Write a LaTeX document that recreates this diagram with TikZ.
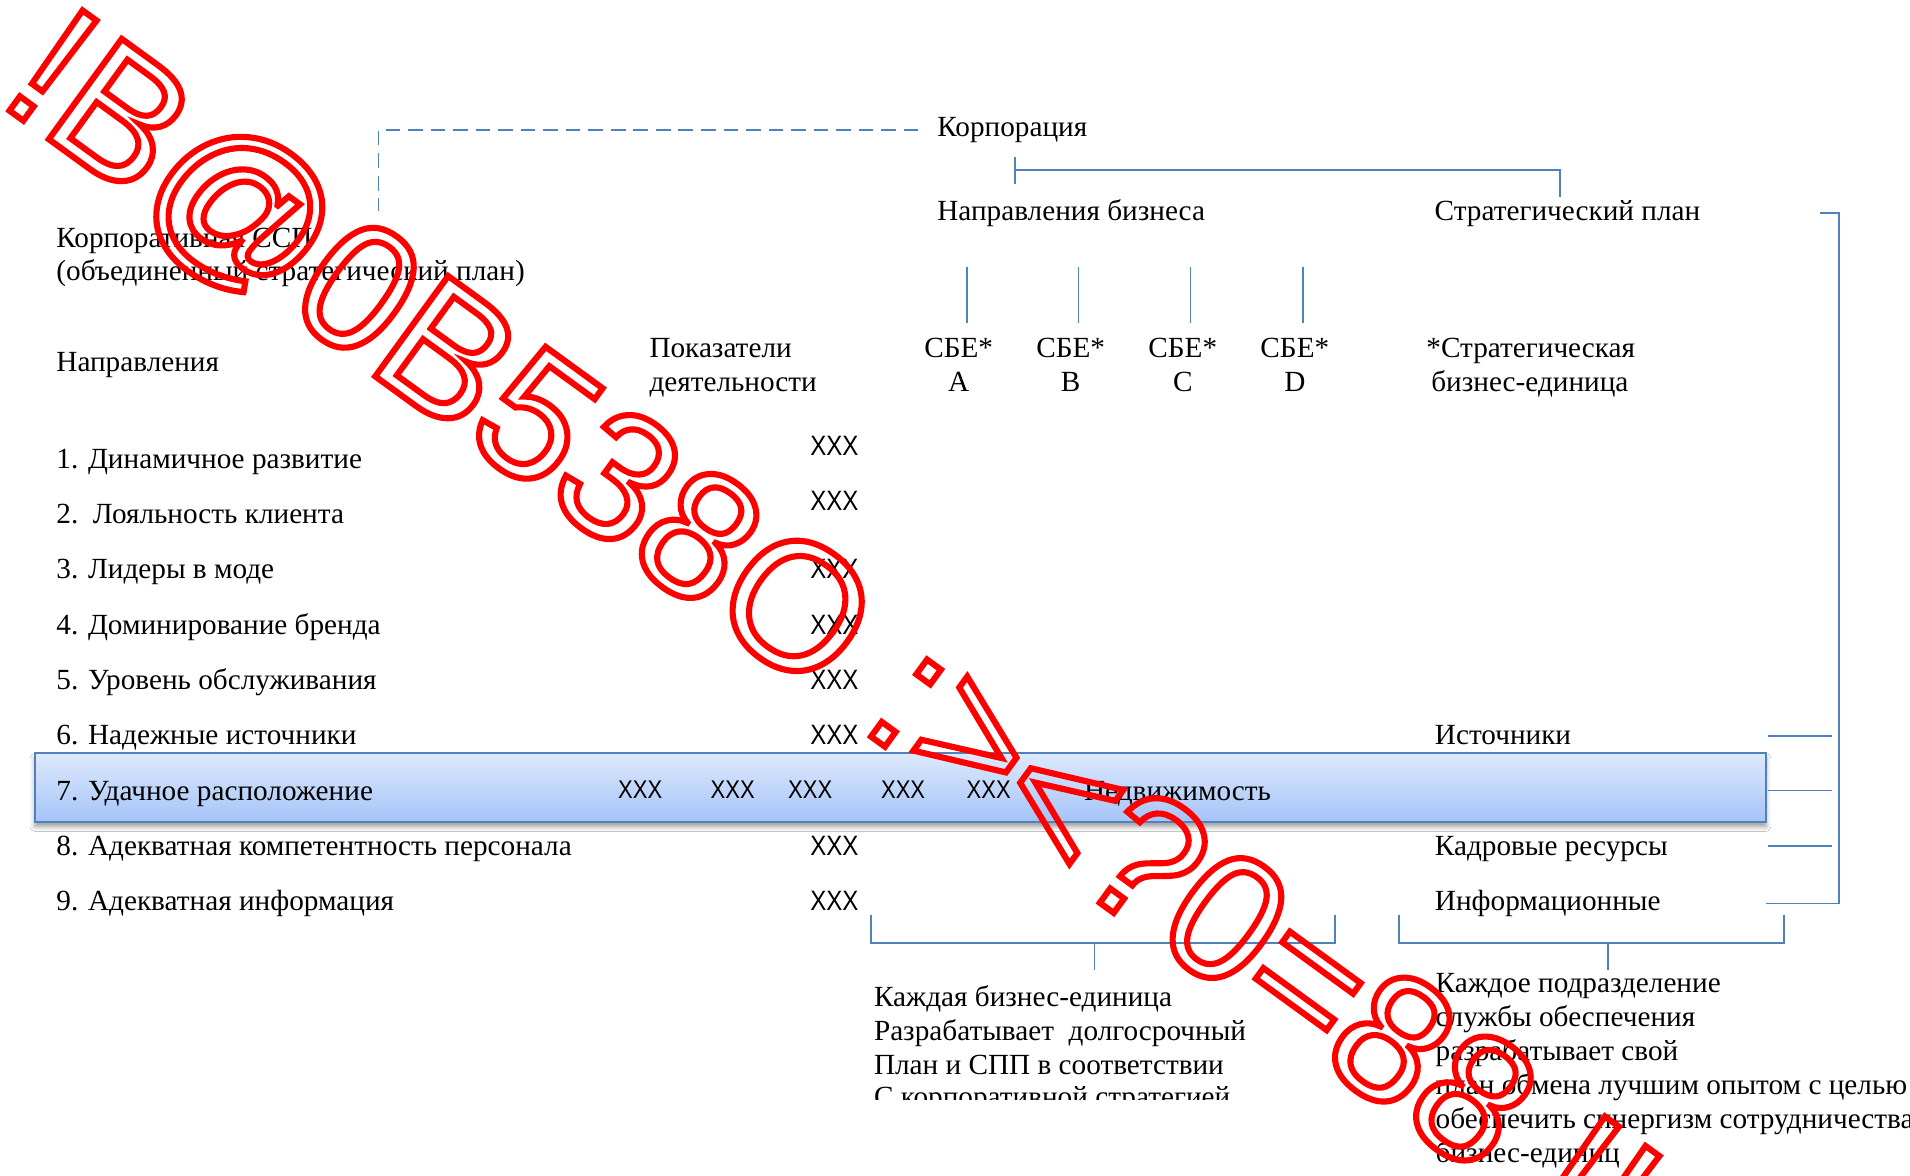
\documentclass[tikz,border=0pt]{standalone}
\usepackage{fontspec}
\usepackage{graphicx}
\setmainfont{Liberation Serif}
\newfontfamily\wmfont{Liberation Sans}
\newfontfamily\xfont{Liberation Sans}
\newcommand{\xxx}{\scalebox{0.86}[1]{XXX}}
\usetikzlibrary{shadows.blur}
\definecolor{lnblue}{HTML}{4F81BD}
\definecolor{boxtop}{HTML}{DDE9FC}
\definecolor{boxbot}{HTML}{A6C4F8}
\begin{document}
\begin{tikzpicture}[x=1pt,y=-1pt,
  every node/.style={inner sep=0pt, outer sep=0pt},
  txt/.style={anchor=base west, yshift=-1.5pt, font=\fontsize{24}{27.6}\selectfont},
  ctr/.style={anchor=base, yshift=-1.5pt, font=\fontsize{24}{27.6}\selectfont},
  xs/.style={anchor=base, font=\xfont\fontsize{23}{26}\selectfont},
  xr/.style={anchor=base, font=\xfont\fontsize{21}{24}\selectfont},
  ln/.style={draw=lnblue, line width=1.4pt},
  dashln/.style={draw=lnblue, line width=1.4pt, dash pattern=on 12pt off 6.5pt},
  hbox/.style={draw=lnblue, line width=1.5pt, top color=boxtop, bottom color=boxbot,
    minimum width=1421.1pt, minimum height=56.1pt,
    blur shadow={shadow xshift=0pt, shadow yshift=-4pt, shadow blur radius=4pt, shadow opacity=40}},
  wm/.style={anchor=base west, text=red, font=\wmfont\fontsize{148}{150}\selectfont}]
\useasboundingbox (0,0) rectangle (1568,965);
\fill[white] (0,0) rectangle (1568,965);
\clip (0,0) rectangle (1568,965);

% header
\node[txt] (korp) at (769.5,110.8) {Корпорация};
\node[txt] (naprb) at (769.5,179.8) {Направления бизнеса};
\node[txt] (strat) at (1177.8,179.8) {Стратегический план};
\node[txt] (cssp1) at (46.3,201.8) {Корпоративная ССП};
\node[txt] (cssp2) at (46.3,229.0) {(объединенный стратегический план)};
\node[txt] (napr) at (46.3,303.5) {Направления};
\node[txt] (pok1) at (533.2,292.3) {Показатели};
\node[txt] (pok2) at (533.2,320.2) {деятельности};
\foreach \n/\x/\l in {A/787/A, B/879/B, C/971/C, D/1063/D}{
  \node[ctr] (sbe\n) at (\x,292.3) {СБЕ*};
  \node[ctr] (sbel\n) at (\x,320.2) {\l};
}
\node[txt] (sbu1) at (1171,292.3) {*Стратегическая};
\node[txt] (sbu2) at (1175,320.2) {бизнес-единица};

% highlighted row
\node[hbox] (r7box) at (739.25,646.55) {};

% list
\node[txt] (l1) at (46.3,383.0) {1. Динамичное развитие};
\node[txt] (l2) at (46.3,428.4) {2.\ \ Лояльность клиента};
\node[txt] (l3) at (46.3,473.8) {3. Лидеры в моде};
\node[txt] (l4) at (46.3,519.2) {4. Доминирование бренда};
\node[txt] (l5) at (46.3,564.6) {5. Уровень обслуживания};
\node[txt] (l6) at (46.3,610.0) {6. Надежные источники};
\node[txt] (l7) at (46.3,655.4) {7. Удачное расположение};
\node[txt] (l8) at (46.3,700.8) {8. Адекватная компетентность персонала};
\node[txt] (l9) at (46.3,746.2) {9. Адекватная информация};

\node[xs] (x1) at (685,374.0) {\xxx};
\node[xs] (x2) at (685,419.0) {\xxx};
\node[xs] (x3) at (685,475.3) {\xxx};
\node[xs] (x4) at (685,520.7) {\xxx};
\node[xs] (x5) at (685,566.1) {\xxx};
\node[xs] (x6) at (685,611.5) {\xxx};
\node[xs] (x8) at (685,702.3) {\xxx};
\node[xs] (x9) at (685,747.7) {\xxx};
\node[xr] (r7a) at (525.6,655.8) {\xxx};
\node[xr] (r7b) at (601.5,655.8) {\xxx};
\node[xr] (r7c) at (665.1,655.8) {\xxx};
\node[xr] (r7d) at (741.4,655.8) {\xxx};
\node[xr] (r7e) at (811.7,655.8) {\xxx};
\node[txt] (nedv) at (890,655.4) {Недвижимость};

\node[txt] (ist) at (1178,610.0) {Источники};
\node[txt] (kadr) at (1178,700.8) {Кадровые ресурсы};
\node[txt] (info) at (1178,746.2) {Информационные};

% bottom texts
\node[txt] (bl1) at (717.5,825.0) {Каждая бизнес-единица};
\node[txt] (bl2) at (717.5,852.6) {Разрабатывает\ \ долгосрочный};
\node[txt] (bl3) at (717.5,880.2) {План и СПП в соответствии};
\begin{scope}
\clip (700,880) rectangle (1100,903);
\node[txt] (bl4) at (717.5,906.5) {С корпоративной стратегией};
\end{scope}
\node[txt] (br1) at (1178.6,813.6) {Каждое подразделение};
\node[txt] (br2) at (1178.6,841.4) {службы обеспечения};
\node[txt] (br3) at (1178.6,869.2) {разрабатывает свой};
\node[txt] (br4) at (1178.6,897.0) {план обмена лучшим опытом с целью};
\node[txt] (br5) at (1178.6,924.8) {обеспечить синергизм сотрудничества};
\node[txt] (br6) at (1178.6,952.6) {бизнес-единиц};

% connectors
\coordinate (d1) at (754,106.7);
\coordinate (d2) at (310.7,173.2);
\draw[dashln] (d1) -| (d2);

\coordinate (t1) at (833,128.5);
\coordinate (t2) at (833,151);
\coordinate (t0) at (833,139.3);
\coordinate (t3) at (1280.4,162);
\draw[ln] (t1) -- (t2);
\draw[ln] (t0) -| (t3);

\foreach \n/\x in {A/793.8, B/885.3, C/977.3, D/1069.4}{
  \coordinate (s\n t) at (\x,219);
  \coordinate (s\n b) at (\x,265);
  \draw[ln] (s\n t) -- (s\n b);
}

\coordinate (rb0) at (1494,175);
\coordinate (rb1) at (1509.5,175);
\coordinate (rb2) at (1450,741.6);
\draw[ln] (rb0) -- (rb1) |- (rb2);
\foreach \n/\y in {ist/604, loc/649, kad/694.3}{
  \coordinate (st\n a) at (1451,\y);
  \coordinate (st\n b) at (1504,\y);
  \draw[ln] (st\n a) -- (st\n b);
}

\coordinate (bla) at (715,751);
\coordinate (blb) at (1096,751);
\coordinate (blm) at (898.5,774);
\coordinate (bls) at (898.5,796.3);
\draw[ln] (bla) |- (blm) -| (blb);
\draw[ln] (blm) -- (bls);

\coordinate (bra) at (1148.4,751);
\coordinate (brb) at (1464.6,751);
\coordinate (brm) at (1319.8,774);
\coordinate (brs) at (1319.8,796.3);
\draw[ln] (bra) |- (brm) -| (brb);
\draw[ln] (brm) -- (brs);

% overlay
\node[wm, rotate=-36] (wmk) at (-3,83) {\special{pdf:literal direct 1 Tr 5 w}!B@0B538O :><?0=88 !!\special{pdf:literal direct 0 Tr}};
\end{tikzpicture}
\end{document}
